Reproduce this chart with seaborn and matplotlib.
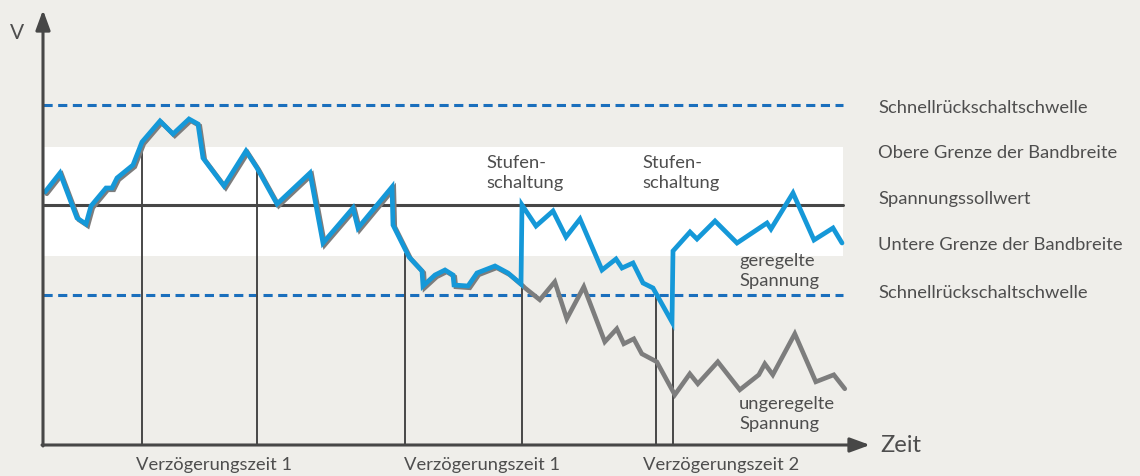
import numpy as np
import pandas as pd
import matplotlib
matplotlib.use("Agg")
import matplotlib.pyplot as plt
import seaborn as sns
from matplotlib.transforms import offset_copy

# -------------------------
# DATA (time t, voltage v in arbitrary units)
# -------------------------

shared_t = [0.2, 1.7, 3.4, 4.3, 4.8, 6.3, 6.9, 7.4, 9.0, 9.9, 11.7, 13.0, 14.6, 15.5,
            16.0, 18.1, 20.3, 21.4, 23.4, 26.7, 28.0, 31.0, 31.5, 34.9, 35.0, 36.6,
            37.9, 38.0, 39.2, 40.2, 41.0, 41.1, 42.5, 43.4, 45.2, 46.5, 47.8]
shared_v = [25.3, 27.2, 22.7, 22.1, 23.9, 25.7, 25.7, 26.7, 28.0, 30.3, 32.4, 31.1, 32.6, 32.1,
            28.7, 25.9, 29.4, 27.7, 24.1, 27.2, 20.2, 23.7, 21.7, 25.8, 22.0, 18.8,
            17.4, 15.9, 17.0, 17.5, 17.0, 16.0, 15.9, 17.2, 17.9, 17.2, 16.1]

regulated_t = [47.9, 49.3, 51.0, 52.3, 53.7, 55.9, 57.3, 57.9, 59.0, 60.0, 61.0, 62.9,
               63.0, 64.7, 65.4, 67.2, 69.4, 72.4, 72.8, 75.0, 77.1, 79.0, 79.9]
regulated_v = [24.0, 21.9, 23.4, 20.8, 22.6, 17.5, 18.6, 17.7, 18.2, 16.2, 15.7, 12.3,
               19.4, 21.3, 20.6, 22.4, 20.2, 22.2, 21.6, 25.2, 20.5, 21.7, 20.2]

unregulated_t = [48.0, 49.5, 51.0, 52.2, 53.9, 56.0, 57.2, 57.9, 58.9, 59.7, 61.2, 63.0,
                 64.5, 65.3, 67.3, 69.5, 71.4, 72.0, 72.8, 75.0, 77.1, 78.9, 80.0]
unregulated_v = [15.9, 14.7, 16.5, 12.8, 16.0, 10.5, 11.8, 10.3, 10.8, 9.3, 8.5, 5.2,
                 7.3, 6.3, 8.5, 5.7, 7.2, 8.3, 7.2, 11.3, 6.5, 7.2, 5.8]

# reference levels
level_names = ["Schnellrückschaltschwelle", "Obere Grenze der Bandbreite", "Spannungssollwert",
               "Untere Grenze der Bandbreite", "Schnellrückschaltschwelle"]
level_values = [34.0, 29.8, 24.0, 18.9, 15.0]
level_label_v = [33.7, 29.2, 24.6, 20.0, 15.2]
band_end = 80.0

# switching / delay markers
marker_t = [9.9, 21.4, 36.2, 47.9, 61.3, 63.0]
marker_top = [30.3, 27.7, 19.2, 16.0, 15.2, 12.3]

delay_labels = ["Verzögerungszeit 1", "Verzögerungszeit 1", "Verzögerungszeit 2"]
delay_t = [17.1, 43.9, 67.8]

step_labels = ["Stufen-\nschaltung", "Stufen-\nschaltung"]
step_t = [44.3, 59.9]

X_MAX = 82.7
Y_MAX = 43.5

# -------------------------
# STYLE
# -------------------------

BG = "#efeeea"
BLUE = "#1598d8"
GREY = "#7d7d7d"
DARK = "#474747"
DASH = "#1a6fbd"
TEXT = "#4e4e4e"
FS = 13.2

sns.set_theme(style="white")
plt.rcParams["font.family"] = ["Lato", "DejaVu Sans"]

fig = plt.figure(figsize=(11.4, 4.76), dpi=100, facecolor=BG)
# axes placed so the origin sits at the axis corner of the reference
ax = fig.add_axes([43 / 1140, 31 / 476, 827 / 1140, 435 / 476])
ax.set_facecolor(BG)
ax.set_xlim(0, X_MAX)
ax.set_ylim(0, Y_MAX)
for s in ax.spines.values():
    s.set_visible(False)
ax.set_xticks([])
ax.set_yticks([])

# band of allowed voltage
ax.fill_between([0, band_end], level_values[3], level_values[1], color="white", lw=0, zorder=0)

# thresholds and setpoint
for i in [0, 4]:
    ax.plot([0, band_end], [level_values[i]] * 2, color=DASH, lw=2.2, dashes=(3.0, 1.8), zorder=1)
ax.plot([0, band_end], [level_values[2]] * 2, color=DARK, lw=2.2, zorder=1)

# vertical markers down to the time axis
ax.vlines(marker_t, 0, marker_top, color=DARK, lw=1.4, zorder=1)

# curves
df_reg = pd.DataFrame({"t": shared_t + regulated_t, "v": shared_v + regulated_v})
df_unreg = pd.DataFrame({"t": shared_t + unregulated_t, "v": shared_v + unregulated_v})

shadow = offset_copy(ax.transData, fig=fig, x=1.3, y=-1.3, units="points")
ax.plot(df_unreg["t"], df_unreg["v"], color=GREY, lw=3.3, transform=shadow,
        solid_joinstyle="miter", zorder=2)
sns.lineplot(data=df_reg, x="t", y="v", ax=ax, color=BLUE, lw=3.4, sort=False,
             estimator=None, zorder=3)
ax.lines[-1].set_solid_joinstyle("miter")
ax.set_xlabel("")
ax.set_ylabel("")

# axis arrows
arrow = dict(arrowstyle="-|>,head_length=0.6,head_width=0.22", color=DARK, lw=2.2,
             mutation_scale=20, shrinkA=0, shrinkB=0)
ax.annotate("", xy=(0, Y_MAX), xytext=(0, -0.1), arrowprops=arrow, annotation_clip=False)
ax.annotate("", xy=(X_MAX, 0), xytext=(-0.1, 0), arrowprops=arrow, annotation_clip=False)
ax.text(-2.6, 41.2, "V", fontsize=15, color=TEXT, ha="center", va="center")
ax.text(X_MAX + 1.0, 0.0, "Zeit", fontsize=17, color=TEXT, ha="left", va="center")

# labels
for name, v in zip(level_names, level_label_v):
    ax.text(83.5, v, name, fontsize=FS, color=TEXT, ha="left", va="center", clip_on=False)
for name, t in zip(delay_labels, delay_t):
    ax.text(t, -2.0, name, fontsize=FS, color=TEXT, ha="center", va="center", clip_on=False)
for name, t in zip(step_labels, step_t):
    ax.text(t, 27.2, name, fontsize=FS, color=TEXT, ha="left", va="center", linespacing=1.25)
ax.text(69.6, 17.4, "geregelte\nSpannung", fontsize=FS, color=TEXT, ha="left", va="center",
        linespacing=1.25)
ax.text(69.6, 3.1, "ungeregelte\nSpannung", fontsize=FS, color=TEXT, ha="left", va="center",
        linespacing=1.25)

fig.savefig("out.png", dpi=100, facecolor=BG)
